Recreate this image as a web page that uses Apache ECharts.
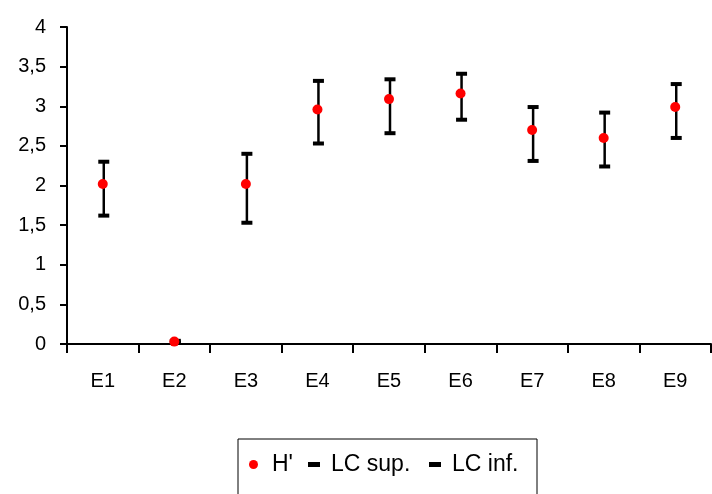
<!DOCTYPE html>
<html>
<head>
<meta charset="utf-8">
<style>
  html, body { margin: 0; padding: 0; background: #fff; }
  #chart { width: 712px; height: 494px; }
</style>
<script src="https://cdn.jsdelivr.net/npm/echarts@6/dist/echarts.min.js"></script>
</head>
<body>
<div id="chart"></div>
<script>
// data
var stations = ['E1', 'E2', 'E3', 'E4', 'E5', 'E6', 'E7', 'E8', 'E9'];
var hPrime  = [2.02, 0.03, 2.02, 2.96, 3.09, 3.16, 2.70, 2.60, 2.99];
var lcSup   = [2.30, 0.04, 2.40, 3.32, 3.34, 3.41, 2.99, 2.92, 3.28];
var lcInf   = [1.62, 0.02, 1.53, 2.53, 2.66, 2.83, 2.31, 2.24, 2.60];

var chart = echarts.init(document.getElementById('chart'));

// legend icons: invisible moves keep the box 18x9 so the drawn mark keeps its size
var dotIcon = 'path://M0,0 M18,9 M0,4.5 A4.5,4.5 0 1,1 9,4.5 A4.5,4.5 0 1,1 0,4.5 Z';
var dashIcon = 'path://M0,0 M18,9 M0,2 L12,2 L12,7 L0,7 Z';

var bars = [];
for (var i = 0; i < stations.length; i++) {
    bars.push([i, lcInf[i], lcSup[i]]);
}

var option = {
    animation: false,
    textStyle: { fontFamily: 'Liberation Sans, Arial, sans-serif' },
    grid: { left: 67, right: 1, top: 27, bottom: 150 },
    legend: {
        left: 238,
        top: 439,
        orient: 'horizontal',
        itemWidth: 18,
        itemHeight: 9,
        itemGap: 15,
        padding: [14, 13, 40, 11],
        borderColor: '#000',
        borderWidth: 1,
        textStyle: { fontSize: 23, color: '#000', lineHeight: 22 },
        data: [
            { name: "H'", icon: dotIcon, itemStyle: { color: '#ff0000', opacity: 1 } },
            { name: 'LC sup.', icon: dashIcon, itemStyle: { color: '#000', opacity: 1 }, textStyle: { width: 83 } },
            { name: 'LC inf.', icon: dashIcon, itemStyle: { color: '#000', opacity: 1 }, textStyle: { width: 72 } }
        ]
    },
    xAxis: {
        type: 'category',
        data: stations,
        boundaryGap: true,
        axisLine: { lineStyle: { color: '#000', width: 2 } },
        axisTick: { show: true, length: 9, lineStyle: { color: '#000', width: 2 } },
        axisLabel: { color: '#000', fontSize: 20, margin: 27 },
        splitLine: { show: false }
    },
    yAxis: {
        type: 'value',
        min: 0,
        max: 4,
        interval: 0.5,
        axisLine: { show: true, lineStyle: { color: '#000', width: 2 } },
        axisTick: { show: true, length: 7, lineStyle: { color: '#000', width: 2 } },
        axisLabel: {
            color: '#000',
            fontSize: 20,
            margin: 21,
            formatter: function (v) { return String(v).replace('.', ','); }
        },
        splitLine: { show: false }
    },
    series: [
        {
            name: 'range',
            type: 'custom',
            z: 1,
            data: bars,
            renderItem: function (params, api) {
                var x = api.value(0);
                var lo = api.coord([x, api.value(1)]);
                var hi = api.coord([x, api.value(2)]);
                return {
                    type: 'line',
                    shape: { x1: lo[0] + 1, y1: lo[1], x2: hi[0] + 1, y2: hi[1] },
                    style: { stroke: '#000', lineWidth: 2.5 }
                };
            }
        },
        {
            name: 'LC sup.',
            type: 'scatter',
            z: 2,
            symbol: 'rect',
            symbolSize: [11, 4],
            symbolOffset: [1, 0],
            itemStyle: { color: '#000', opacity: 1 },
            data: lcSup
        },
        {
            name: 'LC inf.',
            type: 'scatter',
            z: 2,
            symbol: 'rect',
            symbolSize: [11, 4],
            symbolOffset: [1, 0],
            itemStyle: { color: '#000', opacity: 1 },
            data: lcInf
        },
        {
            name: "H'",
            type: 'scatter',
            z: 3,
            symbol: 'circle',
            symbolSize: 10,
            itemStyle: { color: '#ff0000', opacity: 1 },
            data: hPrime
        }
    ]
};

chart.setOption(option);
</script>
</body>
</html>
